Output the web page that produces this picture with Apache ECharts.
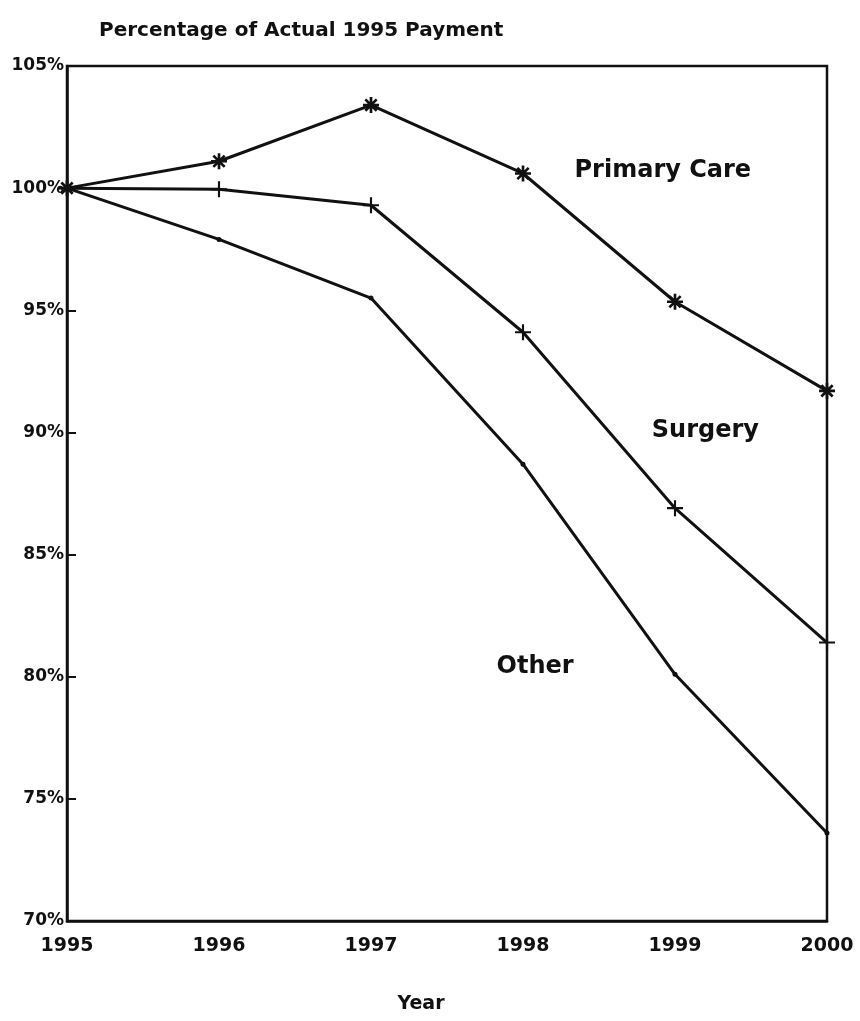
<!DOCTYPE html>
<html>
<head>
<meta charset="utf-8">
<script src="https://cdn.jsdelivr.net/npm/echarts@6/dist/echarts.min.js"></script>
<style>
  html, body { margin: 0; padding: 0; background: #fff; }
  #chart { width: 860px; height: 1021px; }
</style>
</head>
<body>
<div id="chart"></div>
<script>
// values
const years = [1995, 1996, 1997, 1998, 1999, 2000]
const primaryCare = [100, 101.1, 103.4, 100.6, 95.35, 91.7]
const surgery = [100, 99.95, 99.3, 94.1, 86.9, 81.4]
const other = [100, 97.9, 95.5, 88.7, 80.1, 73.6]
const yTicks = [70, 75, 80, 85, 90, 95, 100, 105]

const seriesLabels = [
  { name: 'Primary Care', coord: [1998.92, 100.7] },
  { name: 'Surgery', coord: [1999.2, 90.05] },
  { name: 'Other', coord: [1998.08, 80.4] }
]

const asterisk = 'path://M-1,-6L1,-6L1,6L-1,6Z M-6,-1L6,-1L6,1L-6,1Z ' +
  'M-4.95,-3.54L-3.54,-4.95L4.95,3.54L3.54,4.95Z M3.54,-4.95L4.95,-3.54L-3.54,4.95L-4.95,3.54Z'
const plus = 'path://M-0.8,-6L0.8,-6L0.8,6L-0.8,6Z M-6,-0.8L6,-0.8L6,0.8L-6,0.8Z'

const font = '"DejaVu Sans", Verdana, sans-serif'
const pairs = arr => years.map((y, i) => [y, arr[i]])

const chart = echarts.init(document.getElementById('chart'), null, { renderer: 'canvas' })
chart.setOption({
  backgroundColor: '#fff',
  animation: false,
  title: {
    text: 'Percentage of Actual 1995 Payment',
    left: 94,
    top: 16,
    textStyle: { fontFamily: font, fontWeight: 'bold', fontSize: 20, color: '#111' }
  },
  grid: {
    left: 67,
    right: 33,
    top: 66,
    bottom: 100,
    show: true,
    borderColor: '#111',
    borderWidth: 2.5,
    backgroundColor: 'transparent'
  },
  xAxis: {
    type: 'value',
    min: 1995,
    max: 2000,
    interval: 1,
    name: 'Year',
    nameLocation: 'middle',
    nameGap: 74,
    nameTextStyle: {
      fontFamily: font, fontWeight: 'bold', fontSize: 19, color: '#111',
      padding: [0, 52, 0, 0]
    },
    axisLine: { show: true, lineStyle: { color: '#111', width: 2.5 } },
    axisTick: { show: false },
    splitLine: { show: false },
    axisLabel: {
      margin: 16,
      fontFamily: font, fontWeight: 'bold', fontSize: 19, color: '#111',
      formatter: v => String(v)
    }
  },
  yAxis: {
    type: 'value',
    min: yTicks[0],
    max: yTicks[yTicks.length - 1],
    interval: 5,
    axisLine: { show: true, lineStyle: { color: '#111', width: 2.5 } },
    axisTick: { show: true, inside: true, length: 9, lineStyle: { color: '#111', width: 2 } },
    splitLine: { show: false },
    axisLabel: {
      margin: 3,
      fontFamily: font, fontWeight: 'bold', fontSize: 17, color: '#111',
      formatter: '{value}%'
    }
  },
  series: [
    {
      name: 'Primary Care',
      type: 'line',
      data: pairs(primaryCare),
      symbol: asterisk,
      symbolSize: 16,
      itemStyle: { color: '#111' },
      lineStyle: { color: '#111', width: 3 },
      markPoint: {
        symbol: 'circle',
        symbolSize: 0,
        label: {
          show: true, formatter: '{b}', position: 'inside',
          fontFamily: font, fontWeight: 'bold', fontSize: 24, color: '#111'
        },
        data: seriesLabels.map(l => ({ name: l.name, coord: l.coord }))
      }
    },
    {
      name: 'Surgery',
      type: 'line',
      data: pairs(surgery),
      symbol: plus,
      symbolSize: 16,
      itemStyle: { color: '#111' },
      lineStyle: { color: '#111', width: 3 }
    },
    {
      name: 'Other',
      type: 'line',
      data: pairs(other),
      symbol: 'circle',
      symbolSize: 5,
      itemStyle: { color: '#111' },
      lineStyle: { color: '#111', width: 3 }
    }
  ]
})
</script>
</body>
</html>
